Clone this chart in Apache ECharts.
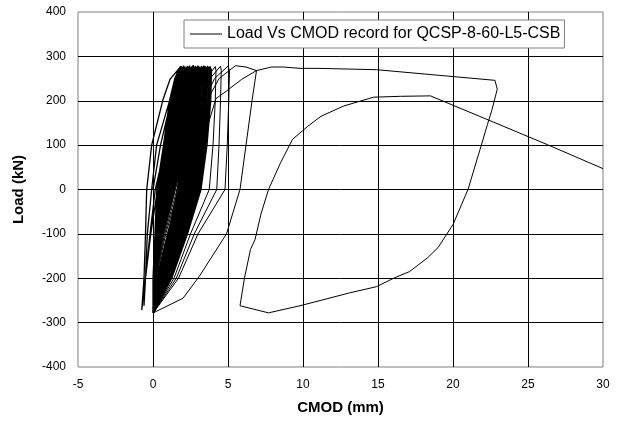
<!DOCTYPE html>
<html>
<head>
<meta charset="utf-8">
<script src="https://cdn.jsdelivr.net/npm/echarts@6/dist/echarts.min.js"></script>
<style>
  html, body { margin: 0; padding: 0; background: #fff; }
  #main { width: 618px; height: 421px; }
</style>
</head>
<body>
<div id="main"></div>
<script>
// first two small loops (left of the main bundle)
const firstPath = [
  [0, 0], [0.5, 100], [1.2, 200], [1.5, 250], [1.85, 277], [1.8, 266], [1.45, 200], [0.85, 100],
  [0.15, 0], [-0.2, -100], [-0.5, -200], [-0.6, -262], [-0.5, -200], [-0.38, -100], [-0.09, 0],
  [0.24, 100], [1.13, 203], [1.5, 250], [1.8, 276], [1.78, 266], [1.5, 200], [1.0, 100], [0.3, 0],
  [-0.15, -100], [-0.5, -200], [-0.75, -272], [-0.6, -200], [-0.5, -100], [-0.42, 0], [-0.09, 100],
  [0.67, 203], [1.13, 248], [1.8, 275], [1.82, 267], [1.6, 200], [1.2, 100], [0.7, 0], [0.25, -100],
  [0.05, -200], [0, -278]
];

// main bundle of cycles: CMOD read at each load level, one value per cycle
const loadLevels = [-278, -200, -100, 0, 100, 200, 250];
const loadX = [
  [0, 0, 0.01, 0, 0.01, 0, 0.01, 0.01, 0, 0.02, 0.01, 0, 0.02, 0.01, 0.02, 0.01, 0.02, 0.03, 0.02, 0.01, 0.03, 0.02, 0.03, 0.02, 0.03, 0.04],
  [0, 0.01, 0.01, 0.02, 0.02, 0.03, 0.03, 0.04, 0.04, 0.05, 0.05, 0.06, 0.06, 0.07, 0.07, 0.08, 0.08, 0.09, 0.09, 0.1, 0.1, 0.11, 0.11, 0.12, 0.12, 0.13],
  [0.13, 0.15, 0.17, 0.2, 0.22, 0.24, 0.26, 0.28, 0.31, 0.33, 0.35, 0.37, 0.39, 0.42, 0.44, 0.46, 0.48, 0.5, 0.53, 0.55, 0.57, 0.59, 0.61, 0.64, 0.66, 0.68],
  [0.25, 0.3, 0.35, 0.39, 0.44, 0.49, 0.54, 0.59, 0.63, 0.68, 0.73, 0.78, 0.83, 0.87, 0.92, 0.97, 1.02, 1.07, 1.11, 1.16, 1.21, 1.26, 1.31, 1.35, 1.4, 1.45],
  [0.7, 0.76, 0.81, 0.87, 0.92, 0.98, 1.04, 1.09, 1.15, 1.2, 1.26, 1.32, 1.37, 1.43, 1.48, 1.54, 1.6, 1.65, 1.71, 1.76, 1.82, 1.88, 1.93, 1.99, 2.04, 2.1],
  [1.1, 1.17, 1.24, 1.3, 1.37, 1.44, 1.51, 1.58, 1.64, 1.71, 1.78, 1.85, 1.92, 1.98, 2.05, 2.12, 2.19, 2.26, 2.32, 2.39, 2.46, 2.53, 2.6, 2.66, 2.73, 2.8],
  [1.45, 1.53, 1.61, 1.68, 1.76, 1.84, 1.92, 2.0, 2.07, 2.15, 2.23, 2.31, 2.39, 2.46, 2.54, 2.62, 2.7, 2.78, 2.85, 2.93, 3.01, 3.09, 3.17, 3.24, 3.32, 3.4]
];
const peakX = [1.8, 1.88, 1.96, 2.04, 2.12, 2.2, 2.28, 2.36, 2.44, 2.52, 2.6, 2.68, 2.76, 2.84, 2.92, 3.0, 3.08, 3.16, 3.24, 3.32, 3.4, 3.48, 3.56, 3.64, 3.72, 3.8];
const peakLoad = [276, 278, 275, 279, 277, 274, 278, 276, 279, 275, 277, 280, 276, 278, 274, 279, 277, 275, 278, 276, 279, 277, 275, 278, 276, 277];
const unloadLevels = [268, 200, 100, 0, -100, -200, -278];
const unloadX = [
  [1.85, 1.93, 2.01, 2.1, 2.18, 2.26, 2.34, 2.42, 2.51, 2.59, 2.67, 2.75, 2.83, 2.92, 3.0, 3.08, 3.16, 3.24, 3.33, 3.41, 3.49, 3.57, 3.65, 3.74, 3.82, 3.9],
  [1.8, 1.88, 1.96, 2.05, 2.13, 2.21, 2.29, 2.37, 2.46, 2.54, 2.62, 2.7, 2.78, 2.87, 2.95, 3.03, 3.11, 3.19, 3.28, 3.36, 3.44, 3.52, 3.6, 3.69, 3.77, 3.85],
  [1.75, 1.82, 1.9, 1.97, 2.05, 2.12, 2.19, 2.27, 2.34, 2.42, 2.49, 2.56, 2.64, 2.71, 2.79, 2.86, 2.93, 3.01, 3.08, 3.16, 3.23, 3.3, 3.38, 3.45, 3.53, 3.6],
  [1.65, 1.71, 1.77, 1.84, 1.9, 1.96, 2.02, 2.08, 2.15, 2.21, 2.27, 2.33, 2.39, 2.46, 2.52, 2.58, 2.64, 2.7, 2.77, 2.83, 2.89, 2.95, 3.01, 3.08, 3.14, 3.2],
  [1.0, 1.05, 1.1, 1.16, 1.21, 1.26, 1.31, 1.36, 1.42, 1.47, 1.52, 1.57, 1.62, 1.68, 1.73, 1.78, 1.83, 1.88, 1.94, 1.99, 2.04, 2.09, 2.14, 2.2, 2.25, 2.3],
  [0.25, 0.29, 0.33, 0.37, 0.41, 0.45, 0.49, 0.53, 0.57, 0.61, 0.65, 0.69, 0.73, 0.77, 0.81, 0.85, 0.89, 0.93, 0.97, 1.01, 1.05, 1.09, 1.13, 1.17, 1.21, 1.25],
  [0.02, 0.01, 0.03, 0.02, 0.01, 0.03, 0.02, 0.04, 0.02, 0.03, 0.01, 0.03, 0.02, 0.04, 0.03, 0.02, 0.04, 0.03, 0.02, 0.04, 0.03, 0.05, 0.02, 0.04, 0.03, 0.04]
];

// the last wider cycles and the final opening loop
const lastPath = [
  [0, -278], [0.15, -200], [0.72, -100], [1.5, 0], [2.2, 100], [2.95, 200], [3.55, 250], [4.15, 277],
  [4.2, 268], [4.15, 200], [4.0, 100], [3.75, 0], [2.5, -100], [1.4, -200], [0.02, -278],
  [0.17, -200], [0.78, -100], [1.6, 0], [2.35, 100], [3.15, 200], [3.8, 250], [4.5, 278],
  [4.55, 268], [4.5, 200], [4.4, 100], [4.25, 0], [2.75, -100], [1.55, -200], [0.02, -278],
  [0.2, -200], [0.85, -100], [1.7, 0], [2.5, 100], [3.4, 200], [4.1, 250], [5.0, 278],
  [5.1, 268], [5.05, 200], [4.95, 100], [4.8, 0], [3.0, -100], [1.7, -200], [0.02, -278],
  [0.25, -200], [0.95, -100], [1.8, 0], [2.7, 100], [3.6, 200], [4.4, 250], [5.5, 279], [6.2, 276], [6.9, 268],
  [6.6, 200], [6.2, 100], [5.8, 0], [4.9, -100], [3.1, -195], [2.0, -245], [0.02, -278],
  [0.5, -230], [1.3, -150], [2.0, -60], [2.6, 0], [3.2, 80], [3.7, 150], [4.2, 205], [4.9, 222], [5.9, 248], [6.9, 268],
  [7.9, 276], [8.7, 276], [9.8, 273], [11, 273], [14.9, 270], [22.8, 246], [22.95, 226], [22.6, 180], [22.3, 147],
  [21.8, 90], [21.0, 0], [20.0, -79], [19.0, -131], [18.3, -154], [17.1, -185], [16.1, -199], [14.9, -219],
  [13.1, -233], [9.8, -262], [7.7, -278], [5.8, -262], [6.1, -199], [6.5, -135], [6.8, -113], [7.2, -55],
  [7.7, 0], [8.5, 60], [9.3, 113], [10.3, 142], [11.2, 165], [12.7, 188], [14.7, 208], [16.5, 210], [18.5, 211],
  [26.3, 101], [30, 47]
];

const seriesName = 'Load Vs CMOD record for QCSP-8-60-L5-CSB';

const bundle = firstPath.slice();
for (let i = 0; i < peakX.length; i++) {
  loadLevels.forEach((lv, j) => bundle.push([loadX[j][i], lv]));
  bundle.push([peakX[i], peakLoad[i]]);
  unloadLevels.forEach((lv, j) => bundle.push([unloadX[j][i], lv]));
}

const font = 'Liberation Sans, Arial, sans-serif';
const chart = echarts.init(document.getElementById('main'));
chart.setOption({
  animation: false,
  backgroundColor: '#fff',
  grid: { left: 78, right: 15, top: 12, bottom: 54, show: true, borderColor: '#808080', borderWidth: 1 },
  legend: {
    data: [{ name: seriesName, icon: 'rect' }],
    left: 184, top: 20,
    padding: [6, 4, 6, 6],
    itemWidth: 32, itemHeight: 1,
    borderColor: '#808080', borderWidth: 1, backgroundColor: '#fff',
    textStyle: { fontFamily: font, fontSize: 16, color: '#000' }
  },
  xAxis: {
    type: 'value', min: -5, max: 30, interval: 5,
    name: 'CMOD (mm)', nameLocation: 'middle', nameGap: 33,
    nameTextStyle: { fontFamily: font, fontSize: 15, fontWeight: 'bold', color: '#000' },
    axisLine: { show: false }, axisTick: { show: false },
    axisLabel: { fontFamily: font, fontSize: 12, color: '#000', margin: 12 },
    splitLine: { show: true, showMinLine: false, showMaxLine: false, lineStyle: { color: '#000', width: 1 } }
  },
  yAxis: {
    type: 'value', min: -400, max: 400, interval: 100,
    name: 'Load (kN)', nameLocation: 'middle', nameGap: 52,
    nameTextStyle: { fontFamily: font, fontSize: 15, fontWeight: 'bold', color: '#000' },
    axisLine: { show: false }, axisTick: { show: false },
    axisLabel: { fontFamily: font, fontSize: 12, color: '#000', margin: 12 },
    splitLine: { show: true, showMinLine: false, showMaxLine: false, lineStyle: { color: '#000', width: 1 } }
  },
  series: [{
    name: seriesName,
    type: 'line',
    data: bundle,
    symbol: 'none',
    clip: true,
    lineStyle: { color: '#000', width: 1.3 },
    itemStyle: { color: '#000' }
  }, {
    name: seriesName,
    type: 'line',
    data: lastPath,
    symbol: 'none',
    clip: true,
    lineStyle: { color: '#000', width: 1 },
    itemStyle: { color: '#000' }
  }]
});
</script>
</body>
</html>
